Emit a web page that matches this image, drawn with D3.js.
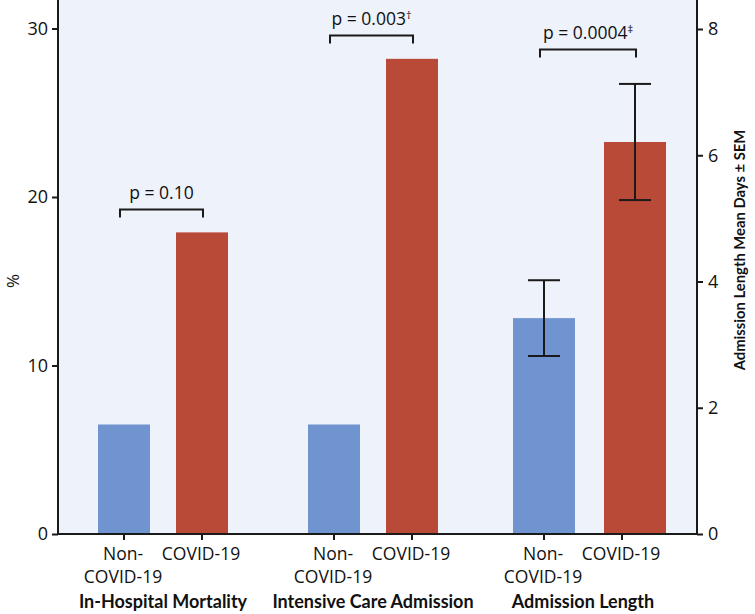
<!DOCTYPE html>
<html>
<head>
<meta charset="utf-8">
<script src="https://cdn.jsdelivr.net/npm/d3@7"></script>
<style>
  html, body { margin: 0; padding: 0; background: #ffffff; }
  svg { display: block; }
  .reg { font-family: "Open Sans", "Noto Sans", sans-serif; fill: #111111; }
  .bold { font-family: Lato, "Open Sans", sans-serif; font-weight: 700; fill: #111111; }
</style>
</head>
<body>
<svg id="chart" width="755" height="614"></svg>
<script>
// ---------------- data ----------------
const groups = ["In-Hospital Mortality", "Intensive Care Admission", "Admission Length"];
const conditions = ["Non-COVID-19", "COVID-19"];
const conditionLines = [["Non-", "COVID-19"], ["COVID-19"]];
// percent (left axis) for first two groups, days (right axis) for last group
const mortalityPct = [6.5, 17.9];
const icuPct = [6.5, 28.2];
const admissionDays = [3.42, 6.21];
const admissionSEM = [0.6, 0.92];
const leftTicks = [0, 10, 20, 30];
const rightTicks = [0, 2, 4, 6, 8];
const pLabels = [
  { main: "p = 0.10", sup: "" },
  { main: "p = 0.003", sup: "\u2020" },
  { main: "p = 0.0004", sup: "\u2021" }
];
const bracketLevelPct = [19.3, 29.6, 28.8]; // bracket heights, in left-axis units
const leftTitle = "%";
const rightTitle = "Admission Length Mean Days \u00b1 SEM";

// ---------------- layout ----------------
const plot = { left: 58, right: 697, top: 0, bottom: 534 };
const colors = { non: "#7094d0", covid: "#b94a38", bg: "#eef2fa", ink: "#1a1a1a" };

const svg = d3.select("#chart");

const yLeft = d3.scaleLinear().domain([0, 30]).range([plot.bottom, 28.5]);
const yRight = d3.scaleLinear().domain([0, 8]).range([plot.bottom, 29]);

const xGroup = d3.scalePoint().domain(groups).range([plot.left, 688]).padding(0.5);
const xTick = d3.scalePoint().domain(conditions).range([-39, 39]);
// bar placement per group (the last group in the original is drawn wider and shifted)
const barWidth = [52, 52, 62];
const barInner = [
  d3.scalePoint().domain(conditions).range([-39, 39]),
  d3.scalePoint().domain(conditions).range([-39, 39]),
  d3.scalePoint().domain(conditions).range([-39, 52])
];

// background
svg.append("rect")
  .attr("x", plot.left).attr("y", plot.top)
  .attr("width", plot.right - plot.left).attr("height", plot.bottom - plot.top)
  .attr("fill", colors.bg);

// bars data
const barData = [];
groups.forEach((g, gi) => {
  conditions.forEach((c, ci) => {
    let v, scale;
    if (gi === 0) { v = mortalityPct[ci]; scale = yLeft; }
    else if (gi === 1) { v = icuPct[ci]; scale = yLeft; }
    else { v = admissionDays[ci]; scale = yRight; }
    const cx = xGroup(g) + barInner[gi](c);
    barData.push({ g, gi, c, ci, v, scale, cx, w: barWidth[gi] });
  });
});

svg.append("g").selectAll("rect").data(barData).join("rect")
  .attr("x", d => d.cx - d.w / 2)
  .attr("width", d => d.w)
  .attr("y", d => d.scale(d.v))
  .attr("height", d => d.scale(0) - d.scale(d.v))
  .attr("fill", d => d.ci === 0 ? colors.non : colors.covid);

// error bars (admission length)
const errData = barData.filter(d => d.gi === 2).map(d => ({
  cx: d.cx, hi: d.v + admissionSEM[d.ci], lo: d.v - admissionSEM[d.ci]
}));
const eg = svg.append("g").attr("stroke", colors.ink).attr("stroke-width", 2);
errData.forEach(e => {
  eg.append("line").attr("x1", e.cx).attr("x2", e.cx).attr("y1", yRight(e.hi)).attr("y2", yRight(e.lo));
  eg.append("line").attr("x1", e.cx - 16).attr("x2", e.cx + 16).attr("y1", yRight(e.hi)).attr("y2", yRight(e.hi));
  eg.append("line").attr("x1", e.cx - 16).attr("x2", e.cx + 16).attr("y1", yRight(e.lo)).attr("y2", yRight(e.lo));
});

// significance brackets
groups.forEach((g, gi) => {
  const bars = barData.filter(d => d.gi === gi);
  const x0 = bars[0].cx - 4, x1 = bars[1].cx + 1;
  const y = Math.round(yLeft(bracketLevelPct[gi])) + 0.5;
  svg.append("path")
    .attr("d", `M${x0},${y + 8}V${y}H${x1}V${y + 8}`)
    .attr("fill", "none").attr("stroke", colors.ink).attr("stroke-width", 2);
  const t = svg.append("text").attr("class", "reg")
    .attr("x", (x0 + x1) / 2).attr("y", y - 11)
    .attr("text-anchor", "middle").attr("font-size", 17.5);
  t.append("tspan").text(pLabels[gi].main);
  if (pLabels[gi].sup) {
    t.append("tspan").attr("font-size", 11).attr("dy", -6).text(pLabels[gi].sup);
  }
});

// axes
const axisLeft = d3.axisLeft(yLeft).tickValues(leftTicks).tickSize(6).tickPadding(4);
const axisRight = d3.axisRight(yRight).tickValues(rightTicks).tickSize(6).tickPadding(5);

function styleAxis(sel) {
  sel.select(".domain").remove();
  sel.selectAll(".tick line").attr("stroke", colors.ink).attr("stroke-width", 2);
  sel.selectAll(".tick text").attr("class", "reg").attr("font-size", 18)
    .attr("fill", "#111").attr("font-family", null);
}
svg.append("g").attr("transform", `translate(${plot.left},0)`).call(axisLeft).call(styleAxis);
svg.append("g").attr("transform", `translate(${plot.right},0)`).call(axisRight).call(styleAxis);

// axis lines
svg.append("line").attr("x1", plot.left).attr("x2", plot.left).attr("y1", plot.top).attr("y2", plot.bottom + 1)
  .attr("stroke", colors.ink).attr("stroke-width", 2);
svg.append("line").attr("x1", plot.right).attr("x2", plot.right).attr("y1", plot.top).attr("y2", plot.bottom + 1)
  .attr("stroke", colors.ink).attr("stroke-width", 2);
svg.append("line").attr("x1", plot.left - 1).attr("x2", plot.right + 1).attr("y1", plot.bottom).attr("y2", plot.bottom)
  .attr("stroke", colors.ink).attr("stroke-width", 2);

// bottom ticks and labels
groups.forEach((g, gi) => {
  conditions.forEach((c, ci) => {
    const tx = xGroup(g) + xTick(c);
    svg.append("line").attr("x1", tx).attr("x2", tx).attr("y1", plot.bottom).attr("y2", plot.bottom + 6)
      .attr("stroke", colors.ink).attr("stroke-width", 2);
    const lines = conditionLines[ci];
    const t = svg.append("text").attr("class", "reg").attr("font-size", 17.5)
      .attr("text-anchor", "middle");
    lines.forEach((ln, li) => {
      t.append("tspan").attr("x", tx - 1).attr("y", 560 + li * 23).text(ln);
    });
  });
  svg.append("text").attr("class", "bold").attr("font-size", 18)
    .attr("text-anchor", "middle")
    .attr("x", xGroup(g)).attr("y", 608).text(g);
});

// axis titles
svg.append("text").attr("class", "reg").attr("font-size", 17)
  .attr("text-anchor", "middle").attr("dominant-baseline", "central")
  .attr("transform", `translate(12,281) rotate(-90)`).text(leftTitle);
svg.append("text").attr("class", "bold").attr("font-size", 14.8)
  .attr("text-anchor", "middle").attr("dominant-baseline", "central")
  .attr("transform", `translate(739,250) rotate(-90)`).text(rightTitle);
</script>
</body>
</html>
